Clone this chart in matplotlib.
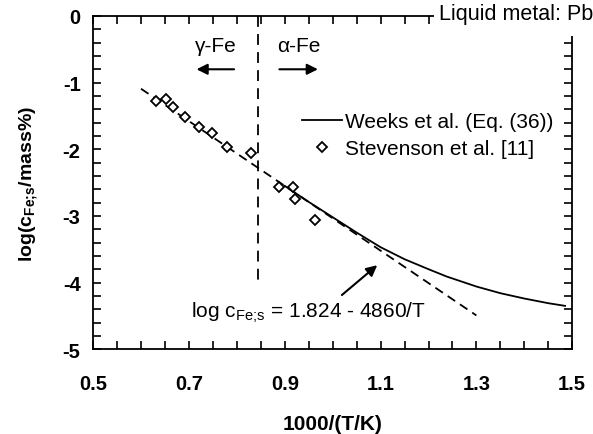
import numpy as np
import matplotlib
matplotlib.use("Agg")
import matplotlib.pyplot as plt
from matplotlib.ticker import MultipleLocator
from matplotlib.patches import Rectangle

plt.rcParams['font.family'] = ['Liberation Sans', 'DejaVu Sans']
plt.rcParams['mathtext.fontset'] = 'custom'
plt.rcParams['mathtext.rm'] = 'Liberation Sans'
plt.rcParams['mathtext.bf'] = 'Liberation Sans:bold'
plt.rcParams['axes.unicode_minus'] = False

# Stevenson et al. [11] data
stev_x = [0.632, 0.652, 0.666, 0.692, 0.720, 0.748, 0.780, 0.829, 0.887, 0.917, 0.922, 0.963]
stev_y = [-1.27, -1.25, -1.37, -1.51, -1.66, -1.75, -1.97, -2.06, -2.57, -2.57, -2.75, -3.06]

# Weeks et al. (Eq. (36))
weeks_x = [0.90, 0.95, 1.00, 1.05, 1.10, 1.15, 1.20, 1.238, 1.30, 1.35, 1.40, 1.45, 1.485]
weeks_y = [-2.55, -2.79, -3.02, -3.25, -3.47, -3.65, -3.80, -3.91, -4.06, -4.16, -4.24, -4.31, -4.35]

# fit line log c = 1.824 - 4860/T
fit_x = [0.60, 1.30]
fit_a, fit_b = 1.824, 4.860

x_ticks = [0.5, 0.7, 0.9, 1.1, 1.3, 1.5]
y_ticks = [0, -1, -2, -3, -4, -5]
boundary_x = 0.845

fig = plt.figure(figsize=(5.93, 4.35), dpi=100)
ax = fig.add_axes([0.157, 0.195, 0.808, 0.766])

fx = np.array(fit_x)
ax.plot(fx, fit_a - fit_b * fx, color='black', lw=1.3, linestyle=(0, (5, 3.2)))
ax.plot(weeks_x, weeks_y, color='black', lw=1.3, label='Weeks et al. (Eq. (36))')
ax.plot(stev_x, stev_y, linestyle='none', marker='D', ms=5.6, mfc='white',
        mec='black', mew=1.3, label='Stevenson et al. [11]')
ax.plot([boundary_x, boundary_x], [0, -4], color='black', lw=1.3, linestyle=(0, (6, 4)))

# phase arrows
ax.text(0.756, -0.45, 'γ-Fe', ha='center', va='center', fontsize=15)
ax.text(0.930, -0.45, 'α-Fe', ha='center', va='center', fontsize=15)
ax.annotate('', xy=(0.71, -0.80), xytext=(0.80, -0.80),
            arrowprops=dict(arrowstyle='-|>', color='black', lw=1.5, mutation_scale=16))
ax.annotate('', xy=(0.975, -0.80), xytext=(0.883, -0.80),
            arrowprops=dict(arrowstyle='-|>', color='black', lw=1.5, mutation_scale=16))

# fit annotation
ax.annotate(r'log c$_\mathrm{Fe;\!s}$ = 1.824 - 4860/T', xy=(1.093, -3.74), xytext=(0.704, -4.44),
            fontsize=15, va='center', ha='left',
            arrowprops=dict(arrowstyle='-|>', color='black', lw=1.5, mutation_scale=16,
                            shrinkA=2, shrinkB=0, relpos=(0.62, 1.0)))

# white patch where the label cuts the top right corner of the frame
ax.add_patch(Rectangle((0.711, 0.94), 0.32, 0.12, transform=ax.transAxes, facecolor='white',
                       edgecolor='none', clip_on=False, zorder=9))
ax.text(1.043, 1.008, 'Liquid metal: Pb', transform=ax.transAxes, ha='right', va='center',
        fontsize=15.5, clip_on=False, zorder=10)

ax.legend(loc='upper left', bbox_to_anchor=(0.437, 0.712), frameon=False, fontsize=15,
          handlelength=1.9, handletextpad=0.15, borderpad=0, borderaxespad=0,
          labelspacing=0.4, numpoints=1)

ax.set_xlim(0.5, 1.5)
ax.set_ylim(-5, 0)
ax.set_xticks(x_ticks)
ax.set_yticks(y_ticks)
ax.xaxis.set_minor_locator(MultipleLocator(0.05))
ax.yaxis.set_minor_locator(MultipleLocator(0.2))
ax.tick_params(which='both', direction='in', top=True, right=True, length=5.5, width=1.2)
ax.tick_params(axis='x', which='major', pad=18)
ax.tick_params(axis='y', which='major', pad=9)
for lab in ax.get_xticklabels() + ax.get_yticklabels():
    lab.set_fontweight('bold')
    lab.set_fontsize(14.5)
for sp in ax.spines.values():
    sp.set_linewidth(1.3)

ax.set_xlabel('1000/(T/K)', fontsize=15, fontweight='bold', labelpad=15)
ax.set_ylabel(r'log(c$_\mathbf{Fe;\!s}$/mass%)', fontsize=14, fontweight='bold', labelpad=16)

fig.savefig('out.png', dpi=100)
